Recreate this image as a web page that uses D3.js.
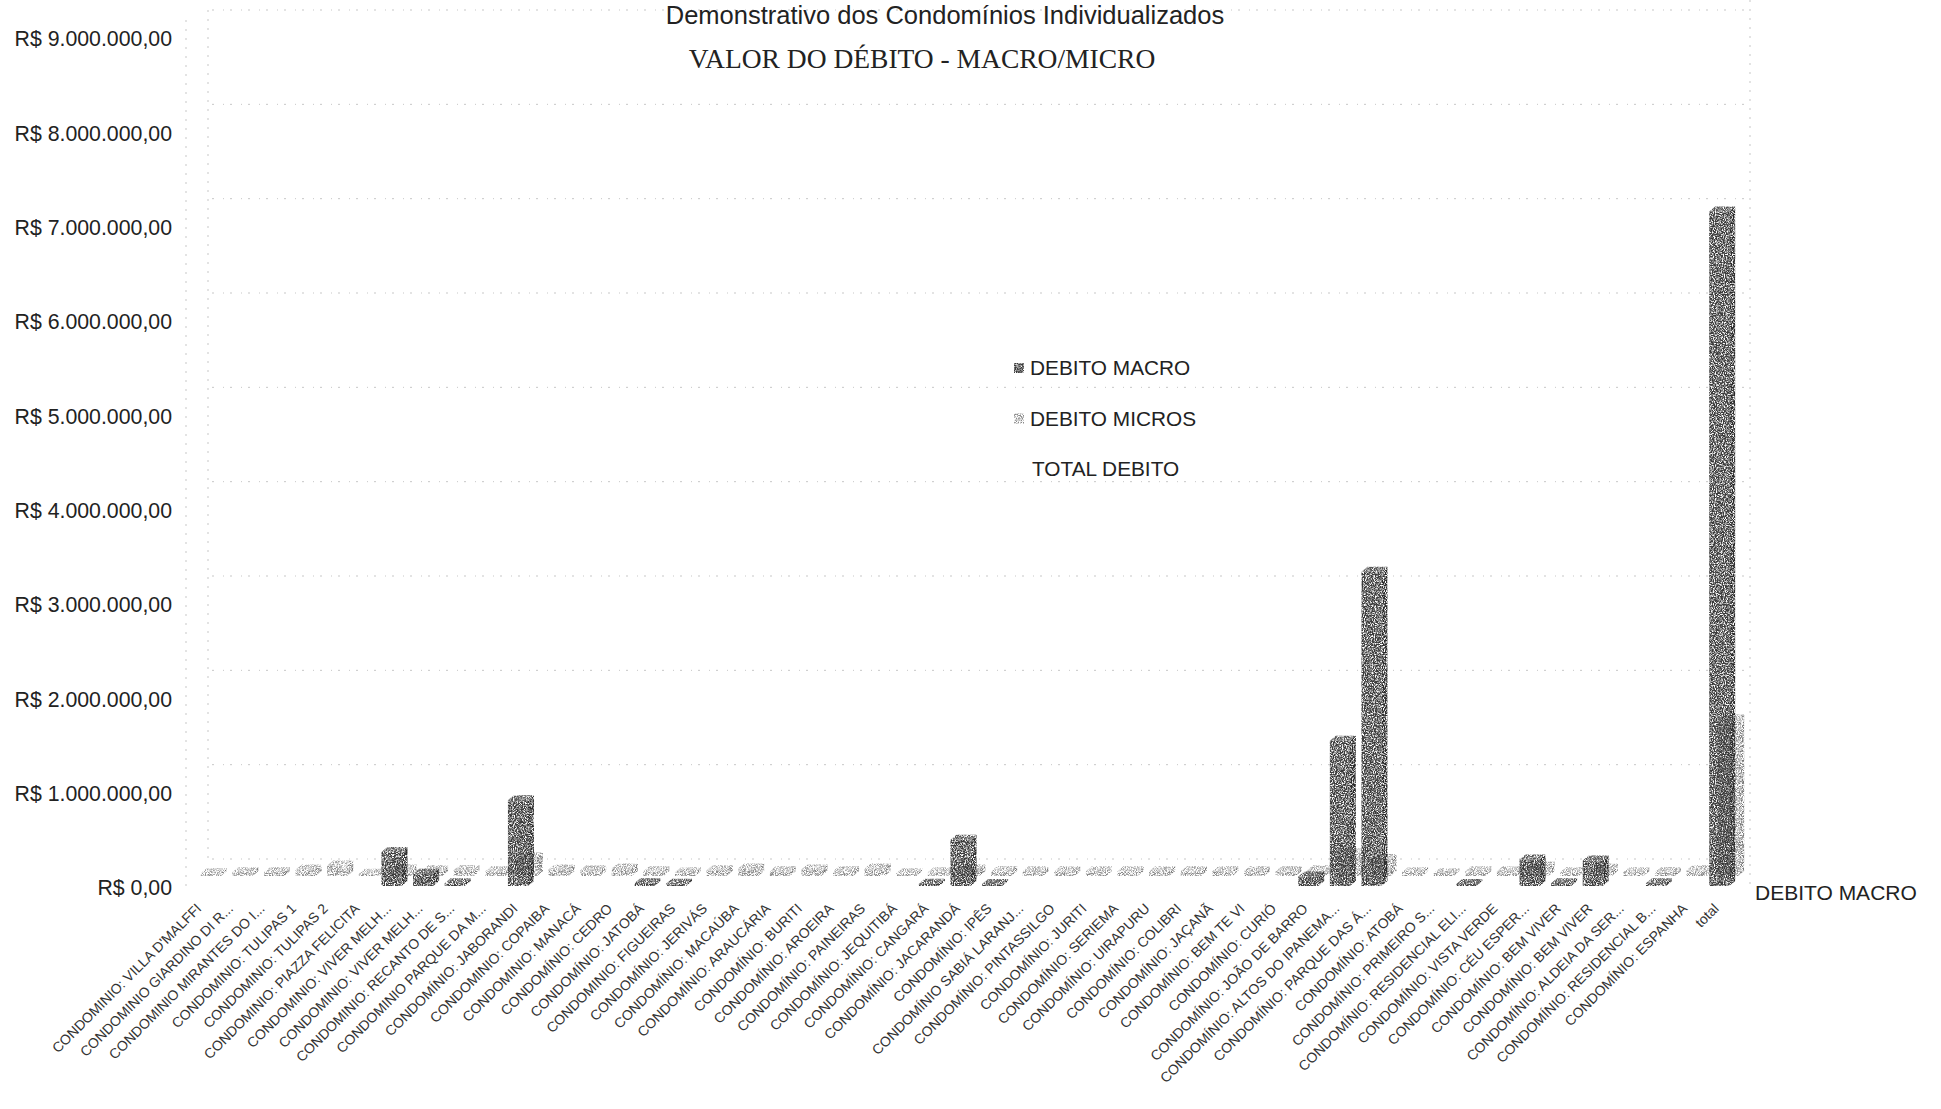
<!DOCTYPE html>
<html><head><meta charset="utf-8">
<script src="https://cdn.jsdelivr.net/npm/d3@7/dist/d3.min.js"></script>
<style>body{margin:0;background:#fff}</style>
</head><body>
<svg id="chart" width="1941" height="1109"></svg>
<script>
const categories = [
 "CONDOMINIO: VILLA D'MALFFI","CONDOMINIO GIARDINO DI R...","CONDOMINIO MIRANTES DO I...","CONDOMINIO: TULIPAS 1","CONDOMINIO: TULIPAS 2",
 "CONDOMINIO: PIAZZA FELICITA","CONDOMINIO: VIVER MELH...","CONDOMINIO: VIVER MELH...","CONDOMINIO: RECANTO DE S...","CONDOMINIO PARQUE DA M...",
 "CONDOMÍNIO: JABORANDI","CONDOMINIO: COPAIBA","CONDOMINIO: MANACÁ","CONDOMÍNIO: CEDRO","CONDOMÍNIO: JATOBÁ",
 "CONDOMINIO: FIGUEIRAS","CONDOMÍNIO: JERIVÁS","CONDOMÍNIO: MACAÚBA","CONDOMÍNIO: ARAUCÁRIA","CONDOMÍNIO: BURITI",
 "CONDOMÍNIO: AROEIRA","CONDOMÍNIO: PAINEIRAS","CONDOMÍNIO: JEQUITIBÁ","CONDOMÍNIO: CANGARÁ","CONDOMÍNIO: JACARANDÁ",
 "CONDOMÍNIO: IPÊS","CONDOMÍNIO SABIÁ LARANJ...","CONDOMÍNIO: PINTASSILGO","CONDOMÍNIO: JURITI","CONDOMÍNIO: SERIEMA",
 "CONDOMÍNIO: UIRAPURU","CONDOMÍNIO: COLIBRI","CONDOMÍNIO: JAÇANÃ","CONDOMÍNIO: BEM TE VI","CONDOMÍNIO: CURIÓ",
 "CONDOMÍNIO: JOÃO DE BARRO","CONDOMÍNIO: ALTOS DO IPANEMA...","CONDOMÍNIO: PARQUE DAS Á...","CONDOMÍNIO: ATOBÁ","CONDOMÍNIO: PRIMEIRO S...",
 "CONDOMÍNIO: RESIDENCIAL ELI...","CONDOMÍNIO: VISTA VERDE","CONDOMÍNIO: CÉU ESPER...","CONDOMÍNIO: BEM VIVER","CONDOMÍNIO: BEM VIVER",
 "CONDOMÍNIO: ALDEIA DA SER...","CONDOMÍNIO: RESIDENCIAL B...","CONDOMÍNIO: ESPANHA","total"
];
const debitoMacro = [
 0,0,0,0,0, 0,360000,130000,30000,0,
 910000,0,0,0,30000, 25000,0,0,0,0,
 0,0,0,25000,490000, 20000,0,0,0,0,
 0,0,0,0,0, 100000,1540000,3330000,0,0,
 20000,0,280000,30000,270000, 0,30000,0,7150000
];
const debitoMicros = [
 30000,40000,40000,70000,110000, 25000,70000,60000,60000,50000,
 200000,70000,60000,80000,50000, 40000,60000,80000,50000,70000,
 50000,80000,30000,40000,70000, 50000,50000,50000,50000,50000,
 50000,50000,50000,50000,50000, 60000,240000,180000,40000,30000,
 50000,50000,100000,40000,80000, 40000,40000,60000,1660000
];
const yTicks = [0,1000000,2000000,3000000,4000000,5000000,6000000,7000000,8000000,9000000];
const legendLabels = ["DEBITO MACRO","DEBITO MICROS","TOTAL DEBITO"];
const chartTitle = "Demonstrativo dos Condomínios Individualizados";
const chartSubtitle = "VALOR DO DÉBITO - MACRO/MICRO";
const depthLabel = "DEBITO MACRO";

const svg = d3.select("#chart");
const defs = svg.append("defs");
function speckle(id, freq, a, b){
 const f = defs.append("filter").attr("id",id).attr("x","-10%").attr("y","-10%").attr("width","120%").attr("height","120%");
 f.append("feTurbulence").attr("type","fractalNoise").attr("baseFrequency",freq).attr("numOctaves","2").attr("seed","3").attr("result","n");
 f.append("feColorMatrix").attr("in","n").attr("type","matrix")
  .attr("values",`0 0 0 0 0  0 0 0 0 0  0 0 0 0 0  ${a} 0 0 0 ${b}`).attr("result","a");
 f.append("feComposite").attr("in","SourceGraphic").attr("in2","a").attr("operator","in");
}
speckle("speckle","0.9",3.2,-0.9);
speckle("speckleLight","1.1",3.6,-1.35);

const fmt = d3.formatLocale({decimal:",",thousands:".",grouping:[3],currency:["R$ ",""]}).format("$,.2f");

const x = d3.scaleBand().domain(d3.range(categories.length)).range([186,1735]).paddingInner(0).paddingOuter(0);
const y = d3.scaleLinear().domain([0,9000000]).range([886,37]);

const wallDy = -27;
// back wall gridlines
svg.append("g").selectAll("line").data(yTicks).join("line")
 .attr("x1",212).attr("x2",1748)
 .attr("y1",d=>y(d)+wallDy).attr("y2",d=>y(d)+wallDy)
 .attr("stroke","#999").attr("stroke-width",1).attr("stroke-dasharray","2,9,1,6").attr("opacity",0.55);
// wall edges
[[186, y(9000000)+wallDy+10, y(0)], [208, y(9000000)+wallDy, y(0)+wallDy], [1750, y(9000000)+wallDy-10, y(0)-2]].forEach(l=>{
 svg.append("line").attr("x1",l[0]).attr("x2",l[0]).attr("y1",l[1]).attr("y2",l[2])
  .attr("stroke","#999").attr("stroke-dasharray","2,7").attr("opacity",0.55);
});

// y axis
const yAxis = svg.append("g").attr("transform","translate(176,2)")
 .call(d3.axisLeft(y).tickValues(yTicks).tickFormat(fmt).tickSize(0).tickPadding(4));
yAxis.select(".domain").remove();
yAxis.selectAll("text").attr("font-family","Liberation Sans, Arial, sans-serif").attr("font-size",21.3).attr("fill","#222");

// 3D bars
const bw = 20;
function bar3d(g, cx, v, opts){
 const x0 = cx - bw/2 + opts.ox, yb = y(0) + opts.oy, yt = y(v) + opts.oy;
 const dx = opts.dx, dy = opts.dy;
 g.append("polygon").attr("points",[[x0+bw,yt],[x0+bw+dx,yt-dy],[x0+bw+dx,yb-dy],[x0+bw,yb]].join(" "))
  .attr("fill",opts.side).attr("filter",opts.filter);
 g.append("rect").attr("x",x0).attr("y",yt).attr("width",bw).attr("height",Math.max(0,yb-yt))
  .attr("fill",opts.front).attr("filter",opts.filter);
 g.append("polygon").attr("points",[[x0,yt],[x0+dx,yt-dy],[x0+bw+dx,yt-dy],[x0+bw,yt]].join(" "))
  .attr("fill",opts.top).attr("filter",opts.filter);
}
const backG = svg.append("g"), frontG = svg.append("g");
debitoMicros.forEach((v,i)=>{
 if(v>0) bar3d(backG, x(i)+x.bandwidth()/2, v, {ox:9, oy:-10, dx:6, dy:5, front:"#8a8a8a", side:"#777", top:"#a0a0a0", filter:"url(#speckleLight)"});
});
debitoMacro.forEach((v,i)=>{
 if(v>0) bar3d(frontG, x(i)+x.bandwidth()/2, v, {ox:0, oy:0, dx:6, dy:5, front:"#3a3a3a", side:"#2a2a2a", top:"#555", filter:"url(#speckle)"});
});

// x axis labels
const xAxis = svg.append("g").attr("transform","translate(-3,906)")
 .call(d3.axisBottom(x).tickFormat(i=>categories[i]).tickSize(0).tickPadding(0));
xAxis.select(".domain").remove();
xAxis.selectAll("text").attr("y",0).attr("x",0).attr("dy","0.35em")
 .attr("transform","rotate(-45)").attr("text-anchor","end")
 .attr("font-family","Liberation Sans, Arial, sans-serif").attr("font-size",14).attr("fill","#333");

// titles
svg.append("text").attr("x",945).attr("y",24).attr("text-anchor","middle")
 .attr("font-family","Liberation Sans, Arial, sans-serif").attr("font-size",25.5).attr("fill","#222").text(chartTitle);
svg.append("text").attr("x",922).attr("y",68).attr("text-anchor","middle")
 .attr("font-family","Liberation Serif, Times New Roman, serif").attr("font-size",27.5).attr("fill","#222").text(chartSubtitle);

// legend
const legSw = [{front:"#3a3a3a", f:"url(#speckle)"},{front:"#8a8a8a", f:"url(#speckleLight)"},null];
const lg = svg.append("g");
legendLabels.forEach((t,i)=>{
 const yy = 368 + i*50.5;
 if(legSw[i]) lg.append("rect").attr("x",1014).attr("y",yy-5).attr("width",10).attr("height",10)
  .attr("fill",legSw[i].front).attr("filter",legSw[i].f);
 lg.append("text").attr("x", i<2 ? 1030 : 1032).attr("y",yy).attr("dy","0.35em")
  .attr("font-family","Liberation Sans, Arial, sans-serif").attr("font-size",20.8).attr("fill","#222").text(t);
});

// depth axis label
svg.append("text").attr("x",1755).attr("y",893).attr("dy","0.35em")
 .attr("font-family","Liberation Sans, Arial, sans-serif").attr("font-size",21).attr("fill","#222").text(depthLabel);
</script>
</body></html>
